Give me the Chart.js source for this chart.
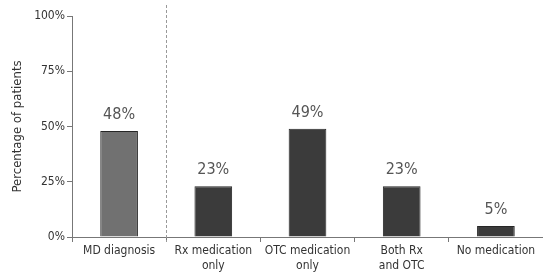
<!DOCTYPE html>
<html>
<head>
<meta charset="utf-8">
<script src="https://cdn.jsdelivr.net/npm/chart.js@4"></script>
<style>
  html, body { margin: 0; padding: 0; background: #fff; }
  #wrap { width: 543px; height: 275px; }
</style>
</head>
<body>
<div id="wrap"><canvas id="myChart"></canvas></div>
<script>
// chart data
var categories = [['MD diagnosis'], ['Rx medication', 'only'], ['OTC medication', 'only'], ['Both Rx', 'and OTC'], ['No medication']];
var values = [48, 23, 49, 23, 5];
var barColors = ['#717171', '#3b3b3b', '#3b3b3b', '#3b3b3b', '#3b3b3b'];
var yTicks = [0, 25, 50, 75, 100];

var FONT = '"Liberation Sans Narrow", "DejaVu Sans Condensed", "Liberation Sans", sans-serif';

// value labels above bars + dashed separator after the first category
const barLabels = {
  id: 'barLabels',
  afterDatasetsDraw(chart) {
    const ctx = chart.ctx;
    const meta = chart.getDatasetMeta(0);
    ctx.save();
    ctx.font = '16px ' + FONT;
    ctx.fillStyle = '#555';
    ctx.textAlign = 'center';
    ctx.textBaseline = 'bottom';
    meta.data.forEach((bar, i) => {
      ctx.fillText(values[i] + '%', bar.x, bar.y - 8);
    });
    // dashed line
    const x = chart.scales.x;
    const sx = Math.round((x.getPixelForValue(0) + x.getPixelForValue(1)) / 2) + 0.5;
    ctx.strokeStyle = '#999';
    ctx.lineWidth = 1;
    ctx.setLineDash([3, 2]);
    ctx.beginPath();
    ctx.moveTo(sx, 5);
    ctx.lineTo(sx, chart.chartArea.bottom + 5);
    ctx.stroke();
    ctx.restore();
  }
};

var ctx = document.getElementById('myChart').getContext('2d');
var myChart = new Chart(ctx, {
  type: 'bar',
  data: {
    labels: categories,
    datasets: [{
      data: values,
      backgroundColor: barColors,
      borderColor: '#262626',
      borderWidth: 1,
      barPercentage: 0.4,
      categoryPercentage: 1
    }]
  },
  plugins: [barLabels],
  options: {
    responsive: true,
    maintainAspectRatio: false,
    animation: false,
    layout: { padding: { top: 16, right: 0, left: 0, bottom: 0 } },
    plugins: {
      legend: { display: false },
      tooltip: { enabled: false }
    },
    scales: {
      x: {
        grid: { drawOnChartArea: false, drawTicks: true, tickLength: 5, color: '#777', offset: true },
        border: { color: '#777', width: 1 },
        ticks: { color: '#333', font: { family: FONT, size: 12 }, padding: 2, maxRotation: 0, autoSkip: false },
        afterFit(scale) { scale.height = 38; }
      },
      y: {
        min: 0,
        max: 100,
        afterBuildTicks(scale) { scale.ticks = yTicks.map(v => ({ value: v })); },
        grid: { drawOnChartArea: false, drawTicks: true, tickLength: 5, color: '#777' },
        border: { color: '#777', width: 1 },
        ticks: {
          color: '#333',
          font: { family: FONT, size: 12 },
          padding: 2,
          callback: v => v + '%'
        },
        title: {
          display: true,
          text: 'Percentage of patients',
          color: '#333',
          font: { family: FONT, size: 13 },
          padding: { top: 10, bottom: 6 }
        },
        afterFit(scale) { scale.width = 72; }
      }
    }
  }
});
</script>
</body>
</html>
